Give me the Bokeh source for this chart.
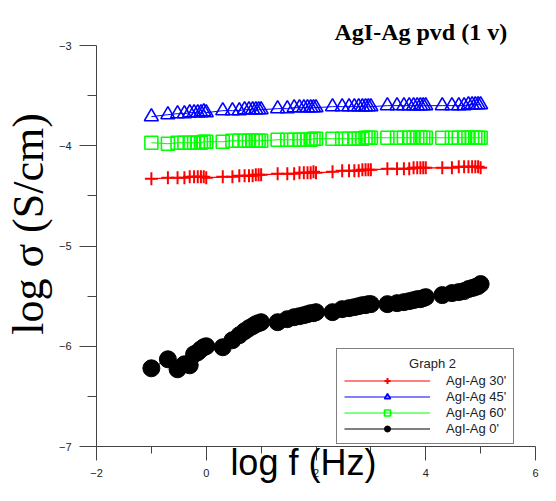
import numpy as np
from bokeh.plotting import figure
from bokeh.models import Legend, LegendItem, FixedTicker, Range1d, Title
from bokeh.embed import file_html
from bokeh.resources import INLINE

# ---- data -------------------------------------------------------------
freq_hz = [0.1, 0.2, 0.3, 0.4, 0.5, 0.6, 0.7, 0.8, 0.9,
           1, 2, 3, 4, 5, 6, 7, 8, 9,
           10, 20, 30, 40, 50, 60, 70, 80, 90,
           100, 200, 300, 400, 500, 600, 700, 800, 900,
           1000, 2000, 3000, 4000, 5000, 6000, 7000, 8000, 9000,
           10000, 20000, 30000, 40000, 50000, 60000, 70000, 80000, 90000,
           100000]

sigma_30 = [-4.33, -4.32, -4.32, -4.32, -4.31, -4.31, -4.31, -4.31, -4.31,
            -4.32, -4.31, -4.31, -4.30, -4.30, -4.30, -4.30, -4.29, -4.29,
            -4.29, -4.28, -4.28, -4.28, -4.27, -4.27, -4.27, -4.27, -4.26,
            -4.27, -4.26, -4.25, -4.25, -4.25, -4.25, -4.24, -4.24, -4.24,
            -4.24, -4.23, -4.23, -4.23, -4.23, -4.22, -4.22, -4.22, -4.22,
            -4.22, -4.22, -4.22, -4.21, -4.21, -4.21, -4.21, -4.21, -4.21,
            -4.22]

sigma_45 = [-3.71, -3.69, -3.68, -3.68, -3.67, -3.67, -3.67, -3.67, -3.66,
            -3.67, -3.65, -3.65, -3.65, -3.64, -3.64, -3.64, -3.64, -3.64,
            -3.64, -3.63, -3.63, -3.62, -3.62, -3.62, -3.62, -3.62, -3.62,
            -3.62, -3.61, -3.61, -3.61, -3.61, -3.61, -3.61, -3.61, -3.61,
            -3.61, -3.60, -3.60, -3.60, -3.60, -3.60, -3.60, -3.60, -3.60,
            -3.60, -3.60, -3.60, -3.60, -3.60, -3.59, -3.59, -3.59, -3.59,
            -3.59]

sigma_60 = [-3.97, -3.98, -3.97, -3.97, -3.97, -3.97, -3.97, -3.97, -3.96,
            -3.96, -3.96, -3.95, -3.95, -3.95, -3.95, -3.95, -3.95, -3.95,
            -3.95, -3.94, -3.94, -3.94, -3.94, -3.94, -3.94, -3.94, -3.93,
            -3.93, -3.93, -3.93, -3.93, -3.93, -3.93, -3.93, -3.92, -3.92,
            -3.92, -3.92, -3.92, -3.92, -3.92, -3.92, -3.92, -3.92, -3.92,
            -3.92, -3.92, -3.92, -3.92, -3.92, -3.92, -3.92, -3.92, -3.92,
            -3.92]

sigma_0 = [-6.22, -6.13, -6.23, -6.18, -6.19, -6.08, -6.06, -6.03, -6.01,
           -6.00, -6.01, -5.94, -5.89, -5.85, -5.82, -5.80, -5.78, -5.77,
           -5.76, -5.76, -5.73, -5.71, -5.70, -5.69, -5.68, -5.67, -5.67,
           -5.66, -5.66, -5.63, -5.62, -5.61, -5.60, -5.59, -5.59, -5.58,
           -5.58, -5.58, -5.57, -5.56, -5.55, -5.54, -5.53, -5.53, -5.52,
           -5.51, -5.49, -5.47, -5.46, -5.45, -5.43, -5.42, -5.41, -5.40,
           -5.38]

series_labels = ["AgI-Ag 30'", "AgI-Ag 45'", "AgI-Ag 60'", "AgI-Ag 0'"]

x_major = [-2, 0, 2, 4, 6]
x_minor = [-1, 1, 3, 5]
y_major = [-7, -6, -5, -4, -3]
y_minor = [-6.5, -5.5, -4.5, -3.5]

title_text = "AgI-Ag pvd (1 v)"
xlabel_text = "log f (Hz)"
ylabel_text = "log \u03c3 (S/cm)"
legend_title = "Graph 2"

# ---- figure -----------------------------------------------------------
log_f = np.log10(np.array(freq_hz, dtype=float))

p = figure(width=540, height=485, x_range=Range1d(-2, 6), y_range=Range1d(-7, -3),
           output_backend="svg", toolbar_location=None,
           min_border_left=95, min_border_right=5, min_border_top=45, min_border_bottom=37)
p.outline_line_color = None
p.grid.visible = False
p.background_fill_color = "white"
p.border_fill_color = "white"

axis_col = "#444444"
for ax in (p.xaxis[0], p.yaxis[0]):
    ax.axis_line_color = axis_col
    ax.major_tick_line_color = axis_col
    ax.minor_tick_line_color = axis_col
    ax.major_tick_in = 0
    ax.minor_tick_in = 0
    ax.major_label_text_font = "Liberation Sans"
    ax.major_label_text_font_size = "11px"
    ax.major_label_text_color = "#222222"
    ax.axis_label_text_color = "black"
    ax.axis_label_text_font_style = "normal"

p.xaxis.ticker = FixedTicker(ticks=x_major, minor_ticks=x_minor)
p.yaxis.ticker = FixedTicker(ticks=y_major, minor_ticks=y_minor)
p.xaxis.major_tick_out = 14
p.xaxis.minor_tick_out = 7
p.yaxis.major_tick_out = 17
p.yaxis.minor_tick_out = 9
p.xaxis.major_label_standoff = 8
p.yaxis.major_label_standoff = 8

# axis titles (spacing characters only nudge the centred text like the original)
p.xaxis.axis_label = xlabel_text + "\u2002\u2009"
p.xaxis.axis_label_text_font = "Liberation Sans"
p.xaxis.axis_label_text_font_size = "36px"
p.xaxis.axis_label_standoff = -38

p.yaxis.axis_label = "\u2002\u2002" + ylabel_text
p.yaxis.axis_label_text_font = "Liberation Serif"
p.yaxis.axis_label_text_font_size = "44px"
p.yaxis.axis_label_standoff = 3

# chart title
p.add_layout(Title(text=title_text, align="left", offset=238, standoff=2,
                   text_font="Liberation Serif", text_font_size="24px",
                   text_font_style="bold", text_color="black"), "above")

# series
l0 = p.line(log_f, sigma_0, line_color="black", line_width=1)
s0 = p.scatter(log_f, sigma_0, marker="circle", size=17, fill_color="black", line_color="black")

l30 = p.line(log_f, sigma_30, line_color="#ff0000", line_width=1.2)
s30 = p.scatter(log_f, sigma_30, marker="cross", size=13, line_color="#ff0000", line_width=2)

l45 = p.line(log_f, sigma_45, line_color="#0000ff", line_width=1)
s45 = p.scatter(log_f, sigma_45, marker="triangle", size=14, fill_color=None,
                line_color="#0000ff", line_width=1.6)

l60 = p.line(log_f, sigma_60, line_color="#00ff00", line_width=1)
s60 = p.scatter(log_f, sigma_60, marker="square", size=13, fill_color=None,
                line_color="#00ff00", line_width=1.6)

legend = Legend(
    items=[LegendItem(label=series_labels[0], renderers=[l30, s30]),
           LegendItem(label=series_labels[1], renderers=[l45, s45]),
           LegendItem(label=series_labels[2], renderers=[l60, s60]),
           LegendItem(label=series_labels[3], renderers=[l0, s0])],
    location=(240, 2),
    title="\u2007" * 9 + legend_title,
    title_text_font="Liberation Sans", title_text_font_size="13px",
    title_text_font_style="normal", title_text_color="#222222", title_standoff=2,
    label_text_font="Liberation Sans", label_text_font_size="13px", label_text_color="#222222",
    glyph_width=86, glyph_height=15, label_height=15, label_standoff=16, spacing=1,
    padding=7, margin=0,
    border_line_color="black", border_line_width=1,
    background_fill_color="white", background_fill_alpha=1.0,
)
p.add_layout(legend)

open("out.html", "w").write(file_html(p, INLINE))
